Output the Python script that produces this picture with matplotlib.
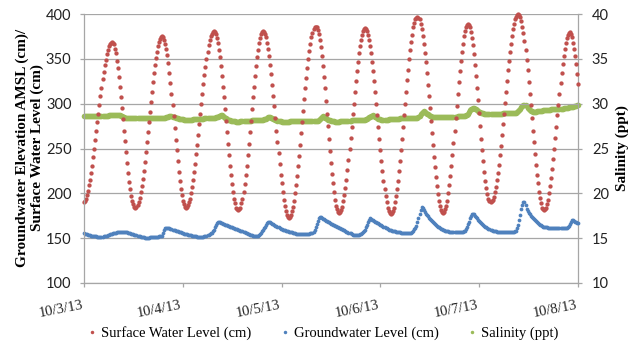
import matplotlib
matplotlib.use('Agg')
import matplotlib.pyplot as plt
from matplotlib.lines import Line2D
import pandas as pd

# ---------------- data (15-minute readings starting 10/3/13 00:00) ----------------
start_time = '2013-10-03 00:00'
sample_freq = '15min'

surface_water_cm = [
    190,191,194,198,203,209,215,223,231,240,249,259,269,279,289,299,309,318,327,335,343,349,355,360,364,367,368,369,
    368,366,361,356,348,340,330,319,307,295,283,270,258,246,234,223,213,205,197,192,188,185,184,
    185,187,190,195,201,208,216,225,235,246,257,268,280,291,302,313,324,334,343,351,358,364,369,372,374,375,
    374,371,367,361,354,345,334,323,311,299,286,273,260,248,236,224,214,205,198,192,188,185,184,
    185,187,190,194,200,207,215,224,233,244,254,265,277,288,300,311,322,332,341,350,358,365,371,375,378,380,381,
    380,378,373,368,360,352,342,331,319,307,294,281,268,255,243,231,220,210,202,194,189,184,182,181,
    182,184,189,194,202,210,220,231,243,255,268,281,294,307,319,331,342,352,360,368,373,378,380,381,
    380,378,374,368,361,353,343,333,321,309,297,284,270,257,245,233,221,211,201,193,186,180,176,174,173,
    174,176,180,185,192,200,209,219,230,242,254,267,280,292,305,317,329,340,350,359,367,374,379,383,385,386,
    385,382,378,371,363,353,342,330,317,303,289,275,261,247,234,222,211,201,193,186,182,179,178,
    179,181,185,191,198,206,215,226,237,249,262,274,288,300,313,325,336,347,356,364,371,377,381,383,384,
    383,381,377,371,364,356,346,336,325,313,300,287,274,261,248,236,225,214,205,197,190,184,180,178,177,
    178,180,184,190,197,205,214,225,236,248,261,274,287,300,313,326,338,350,360,369,377,385,390,394,396,397,
    396,394,389,383,376,367,357,346,334,321,308,295,281,267,254,241,229,218,208,199,192,186,181,179,178,
    179,182,186,192,200,209,219,231,243,256,270,284,297,311,324,336,348,358,367,375,381,385,388,389,
    388,385,380,373,365,355,343,331,318,304,290,275,261,248,236,224,214,206,199,194,191,190,
    191,193,196,201,207,215,223,232,243,253,265,277,289,301,313,325,337,348,358,367,375,383,389,394,397,399,400,
    399,397,392,386,379,370,360,349,337,324,311,298,284,270,257,244,232,221,211,202,195,189,184,182,181,
    182,184,188,193,200,208,217,227,238,250,262,274,287,299,311,323,334,344,353,361,368,373,377,379,380,
    378,374,368,361,353,344,333,322,
]

groundwater_cm = [
    155.4,155.0,154.6,154.2,153.8,153.5,153.2,152.9,152.6,152.4,152.2,152.0,151.9,151.8,151.7,151.6,151.6,151.6,151.7,
    151.9,152.2,152.5,152.9,153.3,153.7,154.1,154.5,154.9,155.3,155.6,155.9,156.2,156.5,156.7,156.9,157.0,157.1,157.2,
    157.2,157.1,157.0,156.8,156.5,156.2,155.9,155.5,155.1,154.7,154.3,153.9,153.5,153.1,152.7,152.3,152.0,151.7,151.4,151.1,150.9,150.7,150.6,150.6,
    150.6,150.7,150.8,150.9,151.0,151.1,151.2,151.3,151.4,151.6,151.8,152.0,152.2,152.4,152.8,
    155.5,159.5,161.5,161.6,
    161.4,161.1,160.8,160.4,160.0,159.6,159.2,158.8,158.4,158.0,157.6,157.2,156.8,156.4,156.0,155.6,155.2,154.9,154.6,154.3,154.0,153.7,153.4,153.1,152.8,152.6,152.4,152.2,152.0,151.8,151.7,151.6,
    151.6,151.6,151.7,151.8,152.0,152.3,152.7,153.2,153.8,154.5,155.3,156.0,
    157.5,159.5,162.0,164.5,167.0,168.4,
    168.0,167.5,167.0,166.6,166.1,165.7,165.2,164.8,164.3,163.9,163.4,163.0,162.5,162.1,161.6,161.2,160.7,160.3,159.8,159.4,158.9,158.5,158.0,157.5,157.0,156.5,156.0,155.5,155.0,154.5,154.0,153.6,153.2,152.8,152.5,
    152.4,152.4,152.5,152.8,
    153.5,154.5,156.0,157.5,159.0,161.0,163.0,165.0,166.7,167.8,168.4,
    167.7,167.0,166.2,165.5,164.7,164.0,163.3,162.6,161.9,161.2,160.6,160.0,159.5,159.0,
    158.6,158.2,157.9,157.6,157.3,157.0,156.7,156.4,156.1,155.8,155.5,155.2,154.9,154.7,154.5,154.3,
    154.2,154.1,154.1,154.1,154.2,154.3,154.5,154.7,155.0,155.3,155.6,156.0,
    157.0,159.0,162.0,165.5,169.0,172.0,173.9,
    173.2,172.5,171.8,171.1,170.4,169.7,169.0,168.3,167.6,166.9,166.2,165.6,165.0,164.4,163.8,163.3,162.8,
    162.2,161.6,161.0,160.4,159.8,159.2,158.6,158.0,157.4,156.8,156.3,155.8,155.3,154.6,154.0,153.5,
    153.4,153.4,153.5,153.7,154.0,154.4,155.0,155.8,156.8,158.0,
    159.5,162.0,165.0,168.0,170.5,172.0,
    171.3,170.6,169.9,169.2,168.5,167.8,167.1,166.4,165.7,165.0,164.3,163.6,162.9,162.2,161.5,160.8,160.2,159.6,159.0,
    158.7,158.4,158.1,157.8,157.5,157.2,157.0,156.8,156.6,156.4,156.2,156.0,155.8,155.7,155.6,155.5,155.4,155.4,155.4,155.5,
    156.0,157.0,158.5,160.0,161.5,164.0,168.0,172.0,177.0,181.5,185.0,
    183.5,181.5,179.5,177.5,176.0,174.5,173.0,171.5,
    170.2,169.0,167.8,166.7,165.7,164.7,163.8,162.9,162.1,161.3,
    160.6,160.0,159.4,158.9,158.5,158.1,157.8,157.5,157.3,157.2,
    157.1,157.0,157.0,157.0,157.0,157.0,157.0,157.0,157.0,157.1,157.2,157.4,157.8,158.5,
    160.0,162.5,165.5,168.4,172.0,175.0,177.0,177.5,
    176.5,175.0,173.5,172.0,170.7,169.4,168.2,167.0,165.9,164.8,163.8,162.9,162.0,161.2,
    160.5,159.9,159.3,158.8,158.4,158.0,157.7,157.5,157.3,157.2,157.1,157.1,157.1,
    157.1,157.1,157.1,157.1,157.1,157.1,157.1,157.1,157.1,157.1,157.2,157.2,
    157.3,157.6,158.5,161.0,165.0,170.0,176.0,182.0,187.5,190.5,190.0,187.0,183.0,
    180.0,178.3,176.7,175.2,173.8,172.5,171.2,170.0,168.9,167.9,166.9,166.0,165.1,164.3,163.5,162.8,
    162.6,162.4,162.2,162.0,161.8,161.7,161.6,161.5,161.4,161.3,161.2,161.2,161.1,161.1,161.0,161.0,161.0,161.0,161.0,161.0,161.1,161.3,161.7,162.5,
    164.0,166.0,168.5,170.3,170.5,169.5,168.5,167.8,167.2,166.7,
]

salinity_ppt = [
    28.6,28.6,28.6,28.6,28.6,28.6,28.6,28.6,28.6,28.6,28.6,28.6,
    28.65,28.65,28.65,28.65,28.65,28.65,28.65,28.65,28.65,28.65,28.65,28.65,
    28.7,28.7,28.7,28.7,28.7,28.7,28.7,28.7,28.7,28.7,28.7,28.7,
    28.65,28.6,28.55,28.5,28.45,28.4,
    28.4,28.4,28.4,28.4,28.4,28.4,28.4,28.4,28.4,28.4,28.4,28.4,28.4,28.4,28.4,28.4,28.4,28.4,28.4,
    28.4,28.4,28.4,28.4,28.4,28.4,28.4,28.4,28.4,28.4,28.4,28.4,28.4,28.4,28.4,28.4,28.4,28.4,
    28.43,28.47,28.5,28.55,28.6,28.62,
    28.58,28.54,28.5,28.46,28.42,28.38,28.35,28.32,28.3,28.28,28.26,28.24,28.22,28.21,28.2,28.2,28.2,
    28.2,28.21,28.22,28.23,28.24,28.25,28.26,28.27,28.28,28.29,28.3,28.31,28.32,28.33,28.34,28.35,28.36,28.37,28.38,28.39,28.4,28.41,28.42,28.43,28.44,28.45,28.47,28.5,
    28.55,28.6,28.65,28.7,28.72,
    28.62,28.52,28.43,28.35,28.28,28.22,28.17,28.13,28.1,28.07,28.05,28.03,28.02,28.01,28.0,
    28.0,28.01,28.02,28.03,28.04,28.05,28.06,28.07,28.08,28.09,28.1,28.11,28.12,28.13,28.14,28.15,28.16,28.17,28.18,28.19,28.2,28.2,28.21,28.22,28.23,28.24,28.25,
    28.33,28.42,28.5,28.55,
    28.5,28.43,28.36,28.3,28.24,28.18,28.13,28.09,28.06,28.04,28.02,28.01,28.0,28.0,
    28.0,28.0,28.0,28.01,28.01,28.02,28.02,28.03,28.03,28.04,28.04,28.05,28.05,28.06,28.06,28.07,28.07,28.08,28.08,28.09,28.09,
    28.1,28.1,28.1,28.1,28.1,28.1,28.1,28.1,28.1,28.1,28.1,28.1,
    28.2,28.32,28.45,28.55,28.6,
    28.52,28.43,28.35,28.28,28.22,28.17,28.13,28.09,28.06,28.04,28.02,28.01,28.0,28.0,
    28.0,28.01,28.02,28.03,28.04,28.05,28.06,28.07,28.08,28.09,28.1,28.11,28.12,28.13,28.14,28.15,28.16,28.17,28.18,28.19,28.2,28.2,28.2,28.2,28.2,28.2,28.22,28.25,28.3,28.38,
    28.46,28.54,28.62,28.68,28.7,
    28.62,28.54,28.46,28.39,28.33,28.28,28.24,28.21,28.2,28.2,
    28.2,28.21,28.22,28.23,28.24,28.25,28.26,28.27,28.28,28.29,28.3,28.31,28.32,28.33,28.34,28.35,28.36,28.37,28.38,28.39,
    28.4,28.4,28.4,28.4,28.4,28.4,28.4,28.4,28.4,28.4,28.4,28.4,28.42,28.5,
    28.65,28.85,29.0,29.12,29.2,
    29.1,29.0,28.9,28.8,28.72,28.65,28.6,28.56,28.53,28.5,
    28.5,28.5,28.5,28.5,28.5,28.5,28.5,28.5,28.5,28.5,28.5,28.5,28.5,28.5,28.5,28.5,
    28.51,28.52,28.53,28.54,28.55,28.56,28.57,28.58,28.59,28.6,28.62,28.64,28.66,28.68,28.7,
    28.75,28.9,29.1,29.3,
    29.4,29.45,29.5,29.5,29.45,
    29.35,29.25,29.17,29.1,29.04,28.99,28.95,28.92,28.9,28.88,28.87,28.86,28.85,28.85,28.85,
    28.85,28.86,28.86,28.87,28.87,28.88,28.88,28.89,28.89,28.9,28.9,28.91,28.91,28.92,28.92,28.93,28.93,28.94,28.94,28.95,28.95,28.96,28.97,28.98,29.0,29.05,29.15,29.3,29.45,29.6,
    29.7,29.8,29.85,29.85,
    29.7,29.55,29.4,29.28,29.2,29.14,29.1,
    29.1,29.11,29.12,29.13,29.14,29.16,29.18,29.2,29.22,29.24,29.26,29.28,29.3,29.31,29.32,29.33,29.34,29.35,29.36,29.37,29.38,29.39,
    29.4,29.41,29.42,29.43,29.44,29.45,29.46,29.48,29.5,29.52,29.54,29.56,29.58,29.6,29.62,29.65,29.68,29.71,29.74,29.77,29.8,29.85,
]

x_tick_labels = ['10/3/13', '10/4/13', '10/5/13', '10/6/13', '10/7/13', '10/8/13']
left_ticks = [100, 150, 200, 250, 300, 350, 400]
right_ticks = [10, 15, 20, 25, 30, 35, 40]
series_names = ['Surface Water Level (cm)', 'Groundwater Level (cm)', 'Salinity (ppt)']

# ---------------- styling ----------------
RED = '#C0504D'
BLUE = '#4F81BD'
GREEN = '#9BBB59'
GRID = '#A6A6A6'
SERIF = 'Liberation Serif'
SANS = 'Lato'

t_sw = pd.date_range(start_time, periods=len(surface_water_cm), freq=sample_freq)
t_gw = pd.date_range(start_time, periods=len(groundwater_cm), freq=sample_freq)
t_sal = pd.date_range(start_time, periods=len(salinity_ppt), freq=sample_freq)
day_ticks = pd.date_range(start_time, periods=len(x_tick_labels), freq='D')

W, H = 637, 347
fig = plt.figure(figsize=(W / 100, H / 100), dpi=100)
L, R, T, B = 84, 578, 14, 283
ax = fig.add_axes([L / W, 1 - B / H, (R - L) / W, (B - T) / H])
ax2 = ax.twinx()
ax.set_zorder(ax2.get_zorder() + 1)
ax.patch.set_visible(False)

ax2.plot(t_sal, salinity_ppt, 'o', ms=4.0, color=GREEN, mew=0, clip_on=False)
ax.plot(t_gw, groundwater_cm, 'o', ms=2.7, color=BLUE, mew=0, clip_on=False)
ax.plot(t_sw, surface_water_cm, 'o', ms=3.1, color=RED, mew=0, clip_on=False)

ax.set_xlim(day_ticks[0], day_ticks[-1])
ax.set_ylim(left_ticks[0], left_ticks[-1])
ax2.set_ylim(right_ticks[0], right_ticks[-1])

ax.set_yticks(left_ticks)
ax2.set_yticks(right_ticks)
ax.set_xticks(day_ticks)
ax.set_xticklabels(x_tick_labels, rotation=11, ha='right', fontfamily=SERIF, fontsize=10.5)
ax.set_yticklabels([str(v) for v in left_ticks], fontfamily=SANS, fontsize=10.5)
ax2.set_yticklabels([str(v) for v in right_ticks], fontfamily=SANS, fontsize=10.5)

ax.yaxis.grid(True, color=GRID, lw=0.9)
ax.set_axisbelow(True)

for a in (ax, ax2):
    for s in a.spines.values():
        s.set_visible(False)
ax.spines['left'].set_visible(True)
ax.spines['bottom'].set_visible(True)
ax2.spines['right'].set_visible(True)
for s in (ax.spines['left'], ax.spines['bottom'], ax2.spines['right']):
    s.set_color(GRID)
    s.set_linewidth(0.9)

ax.tick_params(axis='y', direction='out', length=3, width=0.9, color=GRID, pad=6, labelcolor='#222222')
ax.tick_params(axis='x', direction='out', length=3, width=0.9, color=GRID, pad=8, labelcolor='#222222')
ax2.tick_params(axis='y', direction='out', length=3, width=0.9, color=GRID, pad=7, labelcolor='#222222')

fig.text(29.5 / W, 1 - 148 / H, 'Groundwater Elevation AMSL (cm)/\nSurface Water Level (cm)',
         rotation=90, ha='center', va='center', fontfamily=SERIF, fontweight='bold',
         fontsize=11, linespacing=1.1)
fig.text(622 / W, 1 - 148 / H, 'Salinity (ppt)', rotation=90, ha='center', va='center',
         fontfamily=SERIF, fontweight='bold', fontsize=11)

handles = [Line2D([], [], ls='none', marker='o', ms=2.5, color=c, mew=0) for c in (RED, BLUE, GREEN)]
fig.legend(handles, series_names, loc='center', bbox_to_anchor=(323 / W, 1 - 333 / H),
           ncol=3, frameon=False, handlelength=0.6, handletextpad=0.3, columnspacing=2.0,
           prop={'family': SERIF, 'size': 10.5})

fig.savefig('out.png', dpi=100)
